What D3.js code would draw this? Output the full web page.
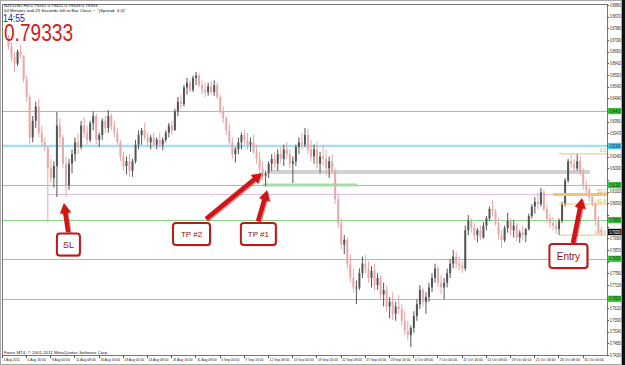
<!DOCTYPE html>
<html>
<head>
<meta charset="utf-8">
<script src="https://cdn.jsdelivr.net/npm/d3@7/dist/d3.min.js"></script>
<style>
body { margin: 0; background: #fff; }
svg text { font-family: "Liberation Sans", Arial, sans-serif; }
</style>
</head>
<body>
<script>
// NZDUSD 8-hour candles, prices in 1/10000
var highs = [8760,8730,8690,8700,8720,8670,8590,8510,8420,8480,8490,8380,8330,8290,8240,8230,8437,8410,8340,8250,
	8240,8280,8330,8345,8400,8416,8380,8400,8440,8430,8350,8410,8420,8445,8430,8400,8370,8320,8270,8250,
	8260,8240,8320,8360,8370,8391,8350,8340,8350,8330,8349,8330,8360,8391,8400,8450,8500,8510,8550,8580,
	8575,8590,8605,8600,8570,8560,8560,8565,8570,8560,8510,8460,8420,8390,8330,8290,8330,8350,8361,8350,
	8330,8340,8300,8270,8230,8190,8230,8260,8270,8280,8290,8300,8310,8280,8250,8300,8330,8350,8370,8365,
	8320,8300,8310,8270,8300,8280,8250,8260,8200,8090,7990,7920,7910,7840,7780,7730,7780,7830,7836,7810,
	7790,7800,7760,7752,7720,7710,7660,7680,7640,7668,7630,7600,7560,7540,7600,7650,7710,7700,7680,7720,
	7760,7800,7790,7750,7740,7780,7820,7857,7850,7830,7810,7960,8004,7990,7971,7950,7960,7975,8000,8040,
	8067,8030,7990,7940,7960,8013,7990,7983,7970,7940,7960,7950,8010,8050,8080,8097,8118,8110,8050,8010,
	7996,7980,7990,8060,8160,8240,8261,8240,8261,8250,8200,8150,8122,8090,8060,8000,7955];
var lows = [8700,8650,8605,8630,8660,8560,8480,8300,8310,8370,8330,8290,8270,7972,8140,8120,8080,8300,8200,8078,
	8110,8180,8230,8260,8280,8330,8300,8310,8360,8300,8290,8320,8350,8350,8360,8330,8300,8230,8190,8175,
	8165,8165,8220,8280,8300,8320,8290,8280,8290,8280,8290,8277,8310,8330,8340,8360,8420,8450,8460,8510,
	8520,8520,8550,8540,8510,8500,8505,8510,8505,8490,8430,8390,8340,8300,8240,8225,8260,8280,8300,8280,
	8270,8260,8220,8180,8150,8125,8160,8190,8200,8190,8220,8210,8240,8200,8139,8210,8260,8280,8290,8260,
	8230,8220,8200,8180,8210,8170,8160,8180,8050,7950,7860,7840,7780,7720,7680,7630,7690,7740,7760,7720,
	7700,7689,7690,7650,7620,7600,7570,7563,7560,7590,7540,7500,7480,7450,7510,7560,7610,7620,7590,7640,
	7680,7720,7700,7670,7650,7700,7740,7780,7780,7773,7760,7770,7920,7930,7900,7890,7900,7905,7940,7980,
	8000,7960,7900,7866,7890,7930,7920,7910,7895,7887,7900,7890,7940,7990,8010,8030,8040,8020,7970,7950,
	7940,7925,7920,7970,8040,8140,8200,8181,8190,8170,8110,8097,8060,8040,7960,7925,7917];
var closes = [8712,8668,8640,8690,8675,8575,8500,8330,8400,8460,8350,8310,8290,8200,8160,8210,8380,8330,8220,8130,
	8220,8260,8310,8290,8380,8350,8320,8390,8420,8320,8340,8400,8370,8420,8380,8350,8310,8250,8210,8230,
	8190,8230,8300,8340,8360,8330,8310,8330,8300,8320,8300,8320,8350,8380,8360,8440,8480,8470,8540,8560,
	8530,8580,8590,8550,8530,8520,8545,8520,8550,8500,8440,8410,8360,8310,8260,8280,8310,8340,8320,8300,
	8310,8270,8240,8200,8170,8180,8220,8240,8220,8260,8240,8280,8260,8220,8230,8290,8310,8300,8340,8280,
	8250,8280,8220,8250,8240,8200,8230,8190,8070,7970,7880,7900,7800,7740,7700,7700,7760,7800,7780,7740,
	7770,7710,7740,7670,7690,7620,7640,7590,7620,7610,7560,7520,7500,7530,7580,7630,7690,7640,7660,7700,
	7740,7780,7720,7700,7720,7760,7800,7830,7800,7790,7780,7940,7980,7950,7920,7940,7910,7960,7990,8030,
	8020,7970,7920,7900,7950,7980,7940,7960,7910,7930,7920,7945,8000,8040,8060,8050,8100,8030,7990,7970,
	7960,7945,7980,8050,8150,8230,8220,8200,8230,8180,8130,8110,8080,8050,7980,7940,7933];
var firstOpen = 8745;

// horizontal objects on the chart
var greenLevels = [8441, 8130, 7983, 7820, 7652];
var blueLevel = 8294;
var pinkLevel = 8093, pinkStart = 12.7;
var grayLevel = 8185, grayStart = 86.5, grayEnd = 192.2;
var greenSegLevel = 8130, greenSegStart = 84, greenSegEnd = 115.2;

// fibonacci retracement
var fibLevels = [0, 50, 61.8, 100];
var fibLabels = ["0.0", "50.0", "61.8", "100.0"];
var fibHigh = 8261, fibLow = 7920, fibStart = 182;

// notes with arrows
var noteLabels = ["SL", "TP #2", "TP #1", "Entry"];
var noteBoxIndex = [19.8, 60.5, 82.6, 185.1];
var noteBoxPrice = [7880, 7925, 7925, 7832];
var noteTailIndex = [19.7, 65.3, 82.5, 186.6];
var noteTailPrice = [7933, 7988, 7979, 7887];
var noteTipIndex = [18.3, 83.8, 85.5, 189.6];
var noteTipPrice = [8055, 8181, 8109, 8076];

// axes
var priceTicks = [8886,8837,8788,8739,8690,8641,8592,8543,8494,8445,8396,8347,8298,8249,8200,8151,
	8102,8053,8004,7955,7906,7857,7808,7759,7710,7661,7612,7563,7514,7465,7416];
var timeLabels = ["2 Aug 2011","4 Aug 16:00","9 Aug 00:00","11 Aug 08:00","16 Aug 16:00","19 Aug 00:00",
	"24 Aug 08:00","26 Aug 16:00","31 Aug 08:00","5 Sep 00:00","7 Sep 16:00","12 Sep 08:00","15 Sep 00:00",
	"19 Sep 16:00","22 Sep 08:00","27 Sep 00:00","29 Sep 16:00","4 Oct 08:00","7 Oct 00:00","11 Oct 16:00",
	"14 Oct 08:00","19 Oct 00:00","21 Oct 16:00","26 Oct 08:00","31 Oct 00:00"];
var currentPrice = 7933;
var headerLine1 = "NZDUSD,H4  0.79241 0.79421 0.79169 0.79333";
var headerLine2 = "64 Minutes and 25 Seconds left to Bar Close. ~ \"(Spread: 3.0)\"";
var clockText = "14:55";
var bigPrice = "0.79333";

var width = 625, height = 365,
	chartLeft = 2, chartRight = 607, chartTop = 4, chartBottom = 355;

var bars = [];
for (var i = 0; i < closes.length; i++) {
	bars.push({
		i: i,
		o: i == 0 ? firstOpen : closes[i - 1],
		h: highs[i],
		l: lows[i],
		c: closes[i]
	});
}

var x = d3.scaleLinear().domain([0, bars.length - 1]).range([8.5, 601.4]);
var y = d3.scaleLinear().domain([7416.4, 8890.6]).range([chartBottom, chartTop]);
var fmt = function (v) { return d3.format(".5f")(v / 10000); };

var svg = d3.select("body").append("svg")
	.attr("width", width)
	.attr("height", height);

svg.append("rect").attr("width", width).attr("height", height).style("fill", "#fff");

/*********************** LEVEL LINES ***********************/
svg.selectAll(".green")
	.data(greenLevels)
	.enter().append("line")
	.attr("x1", chartLeft).attr("x2", chartRight)
	.attr("y1", function (d) { return Math.round(y(d)) + 0.5; })
	.attr("y2", function (d) { return Math.round(y(d)) + 0.5; })
	.style("stroke", "#8fd08f").style("stroke-width", 1);

svg.append("line")
	.attr("x1", chartLeft).attr("x2", chartRight)
	.attr("y1", y(blueLevel)).attr("y2", y(blueLevel))
	.style("stroke", "#a9dcec").style("stroke-width", 2.5);

svg.append("line")
	.attr("x1", x(greenSegStart)).attr("x2", x(greenSegEnd))
	.attr("y1", y(greenSegLevel)).attr("y2", y(greenSegLevel))
	.style("stroke", "#a6dca6").style("stroke-width", 3);

svg.append("line")
	.attr("x1", x(grayStart)).attr("x2", x(grayEnd))
	.attr("y1", y(grayLevel)).attr("y2", y(grayLevel))
	.style("stroke", "#d2d2d2").style("stroke-width", 4);

svg.append("line")
	.attr("x1", x(pinkStart)).attr("x2", chartRight)
	.attr("y1", Math.round(y(pinkLevel)) + 0.5).attr("y2", Math.round(y(pinkLevel)) + 0.5)
	.style("stroke", "#e3bde9").style("stroke-width", 1);

/*********************** CANDLES ***********************/
var candle = svg.selectAll(".candle")
	.data(bars)
	.enter().append("g");

candle.append("line")
	.attr("x1", function (d) { return x(d.i); })
	.attr("x2", function (d) { return x(d.i); })
	.attr("y1", function (d) { return y(d.h); })
	.attr("y2", function (d) { return y(d.l); })
	.style("stroke", function (d) { return d.c >= d.o ? "#555" : "#e6a8a8"; })
	.style("stroke-width", 1);

candle.append("rect")
	.attr("x", function (d) { return x(d.i) - 1; })
	.attr("y", function (d) { return y(Math.max(d.o, d.c)); })
	.attr("width", 2)
	.attr("height", function (d) { return Math.max(1, Math.abs(y(d.o) - y(d.c))); })
	.style("fill", function (d) { return d.c >= d.o ? "#555" : "#e6a8a8"; });

/*********************** FIBONACCI ***********************/
var fib = svg.selectAll(".fib")
	.data(fibLevels)
	.enter().append("g");

fib.append("line")
	.attr("x1", function (d) { return d == 50 ? x(fibStart - 2) : x(fibStart); })
	.attr("x2", chartRight)
	.attr("y1", function (d) { return y(fibHigh - (fibHigh - fibLow) * d / 100); })
	.attr("y2", function (d) { return y(fibHigh - (fibHigh - fibLow) * d / 100); })
	.style("stroke", "#f0c27a")
	.style("stroke-width", function (d) { return d == 50 ? 3 : 1; });

fib.append("text")
	.attr("x", chartRight - 1)
	.attr("y", function (d) { return y(fibHigh - (fibHigh - fibLow) * d / 100) - 1.5; })
	.attr("text-anchor", "end")
	.style("font-size", "4.5px")
	.style("fill", "#e0a040")
	.text(function (d, k) { return fibLabels[k]; });

/*********************** NOTES ***********************/
var boxW = [23, 37, 35, 38], boxH = [22, 22, 22, 24], boxFont = [9, 8, 8, 10];

function headPath(x1, y1, x2, y2, len, w) {
	var dx = x2 - x1, dy = y2 - y1, l = Math.sqrt(dx * dx + dy * dy);
	var ux = dx / l, uy = dy / l, bx = x2 - ux * len, by = y2 - uy * len;
	return "M" + x2 + "," + y2 +
		"L" + (bx - uy * w / 2) + "," + (by + ux * w / 2) +
		"L" + (bx + uy * w / 2) + "," + (by - ux * w / 2) + "Z";
}

noteLabels.forEach(function (label, k) {
	var x1 = x(noteTailIndex[k]), y1 = y(noteTailPrice[k]),
		x2 = x(noteTipIndex[k]), y2 = y(noteTipPrice[k]);
	var dx = x2 - x1, dy = y2 - y1, l = Math.sqrt(dx * dx + dy * dy);
	var bx = x2 - dx / l * 8, by = y2 - dy / l * 8;
	[[1.2, "#7a1010", 0.45], [0, "#d21414", 1]].forEach(function (s) {
		svg.append("line")
			.attr("x1", x1 + s[0]).attr("y1", y1 + s[0])
			.attr("x2", bx + s[0]).attr("y2", by + s[0])
			.style("stroke", s[1]).style("stroke-width", 4.5)
			.style("opacity", s[2]);
		svg.append("path")
			.attr("d", headPath(x1 + s[0], y1 + s[0], x2 + s[0], y2 + s[0], 10, 11))
			.style("fill", s[1]).style("opacity", s[2]);
	});

	var cx = x(noteBoxIndex[k]), cy = y(noteBoxPrice[k]);
	svg.append("rect")
		.attr("x", cx - boxW[k] / 2 + 1.5).attr("y", cy - boxH[k] / 2 + 1.5)
		.attr("width", boxW[k]).attr("height", boxH[k])
		.attr("rx", 3)
		.style("fill", "#999").style("opacity", 0.5);
	svg.append("rect")
		.attr("x", cx - boxW[k] / 2).attr("y", cy - boxH[k] / 2)
		.attr("width", boxW[k]).attr("height", boxH[k])
		.attr("rx", 3)
		.style("fill", "#fff").style("stroke", "#c01818").style("stroke-width", 2);
	svg.append("text")
		.attr("x", cx).attr("y", cy)
		.attr("dy", "0.36em")
		.attr("text-anchor", "middle")
		.style("font-size", boxFont[k] + "px")
		.style("fill", "#8e1212")
		.text(label);
});

/*********************** FRAME & AXES ***********************/
svg.append("rect")
	.attr("x", chartLeft + 0.5).attr("y", chartTop + 0.5)
	.attr("width", chartRight - chartLeft).attr("height", chartBottom - chartTop)
	.style("fill", "none").style("stroke", "#777");

svg.append("rect")
	.attr("x", 0.5).attr("y", 0.5)
	.attr("width", width - 4).attr("height", height - 1)
	.style("fill", "none").style("stroke", "#aaa");

svg.append("rect")
	.attr("x", 622).attr("y", 0)
	.attr("width", 3).attr("height", height)
	.style("fill", "#111");

var tags = greenLevels.map(function (v) { return { v: v, bg: "#3ec43e", fg: "#0a2a0a" }; });
tags.push({ v: blueLevel, bg: "#4cc8f0", fg: "#0a2030" });
tags.push({ v: currentPrice, bg: "#111", fg: "#fff" });

// plain labels hidden where a coloured tag sits on top of them
var freeTicks = priceTicks.filter(function (t) {
	return tags.every(function (g) { return Math.abs(y(t) - y(g.v)) > 6; });
});

svg.selectAll(".ptick")
	.data(priceTicks)
	.enter().append("line")
	.attr("x1", chartRight).attr("x2", chartRight + 2)
	.attr("y1", function (d) { return Math.round(y(d)) + 0.5; })
	.attr("y2", function (d) { return Math.round(y(d)) + 0.5; })
	.style("stroke", "#555");

svg.selectAll(".plabel")
	.data(freeTicks)
	.enter().append("text")
	.attr("x", chartRight + 3)
	.attr("y", function (d) { return y(d); })
	.attr("dy", "0.35em")
	.attr("textLength", 11).attr("lengthAdjust", "spacingAndGlyphs")
	.style("font-size", "4.5px")
	.style("fill", "#222")
	.text(function (d) { return fmt(d); });

var tag = svg.selectAll(".tag")
	.data(tags)
	.enter().append("g");

tag.append("rect")
	.attr("x", chartRight + 1)
	.attr("y", function (d) { return y(d.v) - 3.2; })
	.attr("width", 13.5)
	.attr("height", 6.4)
	.style("fill", function (d) { return d.bg; });

tag.append("text")
	.attr("x", chartRight + 2.5)
	.attr("y", function (d) { return y(d.v); })
	.attr("dy", "0.35em")
	.attr("textLength", 11).attr("lengthAdjust", "spacingAndGlyphs")
	.style("font-size", "4.5px")
	.style("fill", function (d) { return d.fg; })
	.text(function (d) { return fmt(d.v); });

var tTick = svg.selectAll(".ttick")
	.data(timeLabels)
	.enter().append("g");

tTick.append("line")
	.attr("x1", function (d, k) { return Math.round(x(k * 8 - 2.2)) + 0.5; })
	.attr("x2", function (d, k) { return Math.round(x(k * 8 - 2.2)) + 0.5; })
	.attr("y1", chartBottom).attr("y2", chartBottom + 3)
	.style("stroke", "#555");

tTick.append("text")
	.attr("x", function (d, k) { return x(k * 8 - 2.2) + 1.5; })
	.attr("y", chartBottom + 6)
	.attr("textLength", function (d) { return d.length * 1.65; })
	.attr("lengthAdjust", "spacingAndGlyphs")
	.style("font-size", "4.4px")
	.style("fill", "#222")
	.text(function (d) { return d; });

/*********************** HEADER ***********************/
svg.append("text").attr("x", 4).attr("y", 7)
	.style("font-size", "4.4px").style("fill", "#111").text(headerLine1);
svg.append("text").attr("x", 4).attr("y", 11.5)
	.style("font-size", "4.4px").style("fill", "#111").text(headerLine2);
svg.append("text").attr("x", 3).attr("y", 21.5)
	.attr("textLength", 22).attr("lengthAdjust", "spacingAndGlyphs")
	.style("font-size", "10px").style("fill", "#1b1ba8").text(clockText);
svg.append("text").attr("x", 4).attr("y", 41)
	.attr("textLength", 69).attr("lengthAdjust", "spacingAndGlyphs")
	.style("font-size", "23.5px").style("fill", "#d21c1c").text(bigPrice);
svg.append("text").attr("x", 4).attr("y", chartBottom - 1.5)
	.style("font-size", "4.4px").style("fill", "#222")
	.text("Forex MT4, \u00a9 2001-2011 MetaQuotes Software Corp.");
</script>
</body>
</html>
